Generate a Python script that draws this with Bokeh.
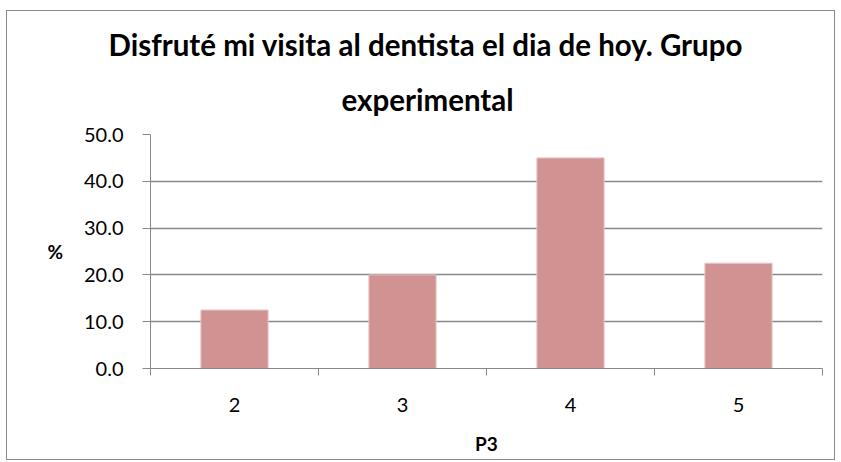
from bokeh.plotting import figure
from bokeh.models import Title, FixedTicker, NumeralTickFormatter, Range1d
from bokeh.embed import file_html
from bokeh.resources import INLINE

categories = [2, 3, 4, 5]
values = [12.5, 20.0, 45.0, 22.5]
y_ticks = [0, 10, 20, 30, 40, 50]
title_lines = ["Disfruté mi visita al dentista el dia de hoy. Grupo", "experimental"]
x_label = "P3"
y_label = "%"

FONT = "Lato"
GRAY = "#898989"

p = figure(width=829, height=450, output_backend="svg", toolbar_location=None,
           x_range=Range1d(1.5, 5.5), y_range=Range1d(0, 50),
           min_border_left=143, min_border_right=14, min_border_top=123, min_border_bottom=93)
p.title = None
p.outline_line_color = None
p.styles = {"border": "1px solid #8a8a8a", "margin-left": "6px", "margin-top": "10px"}

p.vbar(x=categories, top=values, width=0.4, fill_color="#D19292", line_color="#E8C4C4", line_width=1)

# titles (first added is closest to plot)
t2 = Title(text=title_lines[1], align="left", text_font=FONT, text_font_style="bold",
           text_font_size="29.5px", text_color="#000000", standoff=35, offset=191)
t1 = Title(text=title_lines[0], align="left", text_font=FONT, text_font_style="bold",
           text_font_size="29.5px", text_color="#000000", standoff=2, offset=-42)
p.add_layout(t2, "above")
p.add_layout(t1, "above")

# x axis
xa = p.xaxis[0]
xa.ticker = FixedTicker(ticks=categories, minor_ticks=[1.5, 2.5, 3.5, 4.5, 5.5])
xa.major_tick_out = 0
xa.major_tick_in = 0
xa.minor_tick_out = 7
xa.minor_tick_in = 0
xa.minor_tick_line_color = GRAY
xa.minor_tick_line_width = 1
xa.axis_line_color = GRAY
xa.axis_line_width = 1
xa.major_label_text_font = FONT
xa.major_label_text_font_size = "20px"
xa.major_label_text_color = "#000000"
xa.major_label_standoff = 22
xa.axis_label = x_label
xa.axis_label_text_font = FONT
xa.axis_label_text_font_style = "bold"
xa.axis_label_text_font_size = "19px"
xa.axis_label_text_color = "#000000"
xa.axis_label_standoff = 17

# y axis
ya = p.yaxis[0]
ya.ticker = FixedTicker(ticks=y_ticks, minor_ticks=[])
ya.formatter = NumeralTickFormatter(format="0.0")
ya.major_tick_out = 8
ya.major_tick_in = 0
ya.major_tick_line_color = GRAY
ya.axis_line_color = GRAY
ya.axis_line_width = 1
ya.major_label_text_font = FONT
ya.major_label_text_font_size = "20px"
ya.major_label_text_color = "#000000"
ya.major_label_standoff = 19
ya.axis_label = y_label
ya.axis_label_orientation = "horizontal"
ya.axis_label_text_font = FONT
ya.axis_label_text_font_style = "bold"
ya.axis_label_text_font_size = "19px"
ya.axis_label_text_color = "#000000"
ya.axis_label_standoff = 18

p.xgrid.grid_line_color = None
p.ygrid.grid_line_color = GRAY
p.ygrid.grid_line_width = 1.5
p.ygrid.ticker = FixedTicker(ticks=y_ticks[1:])

open("out.html", "w").write(file_html(p, INLINE))
